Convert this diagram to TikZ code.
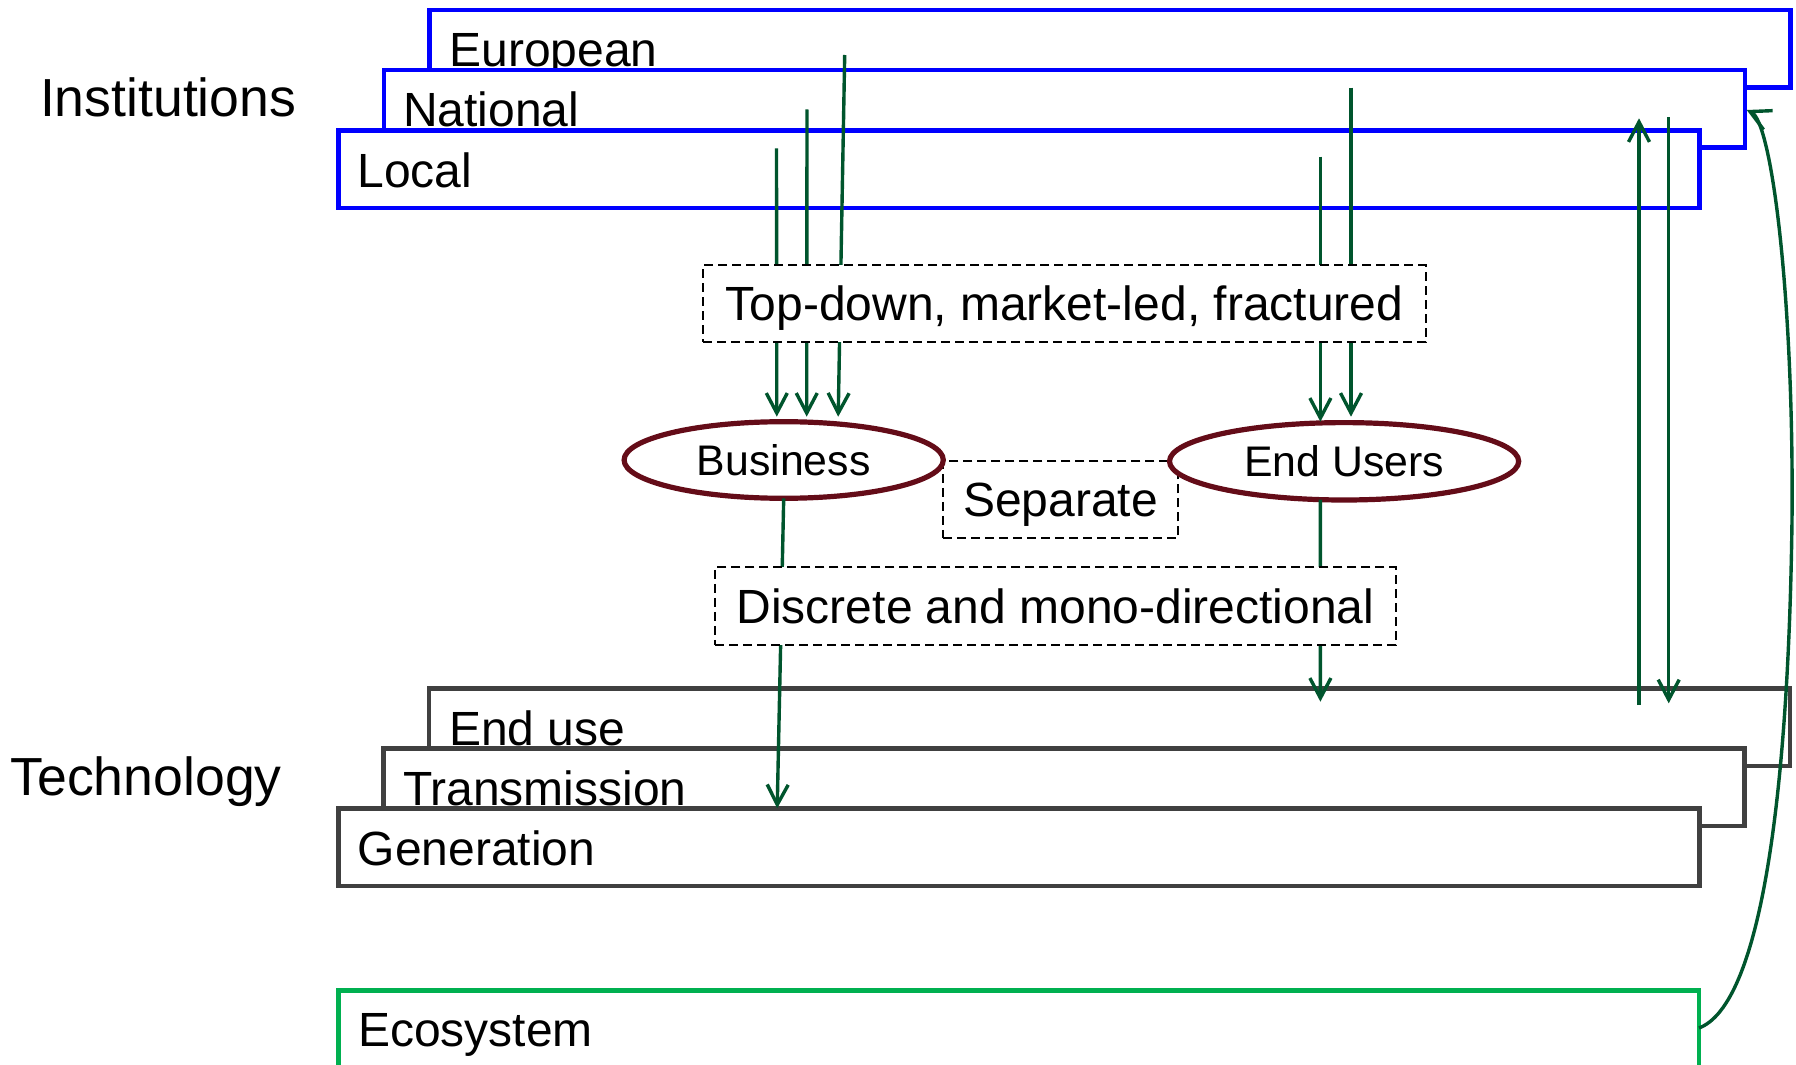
\documentclass[tikz,border=0pt]{standalone}
\usepackage{fontspec}
\setmainfont{Liberation Sans}
\usetikzlibrary{arrows.meta,shapes.geometric,calc}
\definecolor{instblue}{RGB}{0,0,255}
\definecolor{techgray}{RGB}{64,64,64}
\definecolor{ecogreen}{RGB}{0,176,80}
\definecolor{flowgreen}{RGB}{0,85,45}
\definecolor{actorred}{RGB}{100,12,24}
\begin{document}
\begin{tikzpicture}[x=0.5pt,y=-0.5pt,
  layer/.style={rectangle, draw, fill=white, line width=2.3pt, outer sep=0pt, inner sep=0pt,
    minimum width=680.5pt, minimum height=38.75pt, anchor=north west},
  instbox/.style={layer, draw=instblue},
  techbox/.style={layer, draw=techgray},
  boxlabel/.style={anchor=base west, inner sep=0pt, outer sep=0pt, font=\fontsize{24}{29}\selectfont},
  sidelabel/.style={anchor=base west, inner sep=0pt, outer sep=0pt, font=\fontsize{26.8}{32}\selectfont},
  dashbox/.style={rectangle, draw=black, fill=white, line width=1pt, dash pattern=on 4.5pt off 2.5pt,
    inner sep=0pt, outer sep=0pt, minimum height=38.65pt, text height=17.2pt, text depth=0pt,
    font=\fontsize{24}{29}\selectfont},
  actor/.style={ellipse, draw=actorred, fill=white, line width=2.6pt, inner sep=0pt, outer sep=0pt,
    text height=15.4pt, text depth=0pt, font=\fontsize{21.4}{26}\selectfont},
  flow/.style={draw=flowgreen, line width=1.7pt, -{Straight Barb[length=10pt,width=10.5pt]}}
]
\useasboundingbox (0,0) rectangle (1796,1065);

% side labels
\node[sidelabel] (inst) at (40,116.7) {Institutions};
\node[sidelabel] (tech) at (10.5,795) {Technology};

% institution layers
\node[instbox] (eur) at (429.5,10) {};
\node[boxlabel] (eurT) at (449.5,66.7) {European};
\node[instbox] (nat) at (384,70) {};
\node[boxlabel] (natT) at (403,126.7) {National};
\node[instbox] (loc) at (338.5,130.5) {};
\node[boxlabel] (locT) at (357.5,187.3) {Local};

% technology layers
\node[techbox] (enduse) at (429,688.3) {};
\node[boxlabel] (enduseT) at (449,745) {End use};
\node[techbox] (trans) at (383.5,748.3) {};
\node[boxlabel] (transT) at (403,805.7) {Transmission};
\node[techbox] (gen) at (338.3,808.5) {};
\node[boxlabel] (genT) at (357.7,865) {Generation};

% ecosystem (open at the bottom edge of the picture)
\draw[ecogreen, line width=2.3pt] (338.3,1065) |- (1699,990.5) -- (1699,1065);
\node[boxlabel] (ecoT) at (358,1046.7) {Ecosystem};
\coordinate (ecoR) at (1699,1028);

% separate box and actors
\node[dashbox, minimum width=117.5pt] (sep) at (1060.5,499.7) {Separate};
\node[actor, minimum width=159.6pt, minimum height=38.3pt] (biz) at (783.7,460) {Business};
\node[actor, minimum width=174.6pt, minimum height=38.7pt] (eusr) at (1344.1,461.3) {End Users};

% connector end points
\coordinate (s1) at (776.5,148.3);  \coordinate (t1) at (776.8,416.7);
\coordinate (s2) at (807,109.5);    \coordinate (t2) at (806.7,416.7);
\coordinate (s3) at (844.7,55);     \coordinate (t3) at (838.2,416.7);
\coordinate (s4) at (1320.4,156.7); \coordinate (t4) at (1320.4,421.7);
\coordinate (s5) at (1351,87.7);    \coordinate (t5) at (1351,416.7);
\coordinate (t6) at (777.2,808.3);
\coordinate (s7) at ($(eusr.south)+(-23.7,-0.5)$); \coordinate (t7) at (1320.4,701.7);
\coordinate (u1) at (1639,705);     \coordinate (u1t) at (1639,118.3);
\coordinate (d1) at (1668.7,117.3); \coordinate (d1t) at (1668.7,703.3);
\coordinate (natR) at (1746.7,110);

% connectors
\draw[flow] (s1) -- (t1);
\draw[flow] (s2) -- (t2);
\draw[flow] (s3) -- (t3);
\draw[flow] (s4) -- (t4);
\draw[flow] (s5) -- (t5);
\draw[flow] (biz.south) -- (t6);
\draw[flow] (s7) -- (t7);
\draw[flow] (u1) -- (u1t);
\draw[flow] (d1) -- (d1t);
\draw[flow] (ecoR) .. controls (1760,1005) and (1788.5,800) .. (1792,520)
  .. controls (1794,300) and (1772,122) .. (natR);

% dashed boxes on top of the connectors
\node[dashbox, minimum width=361.1pt] (td) at (1064.4,303.7) {Top-down, market-led, fractured};
\node[dashbox, minimum width=340.5pt] (disc) at (1055.5,605.9) {Discrete and mono-directional};
\end{tikzpicture}
\end{document}
